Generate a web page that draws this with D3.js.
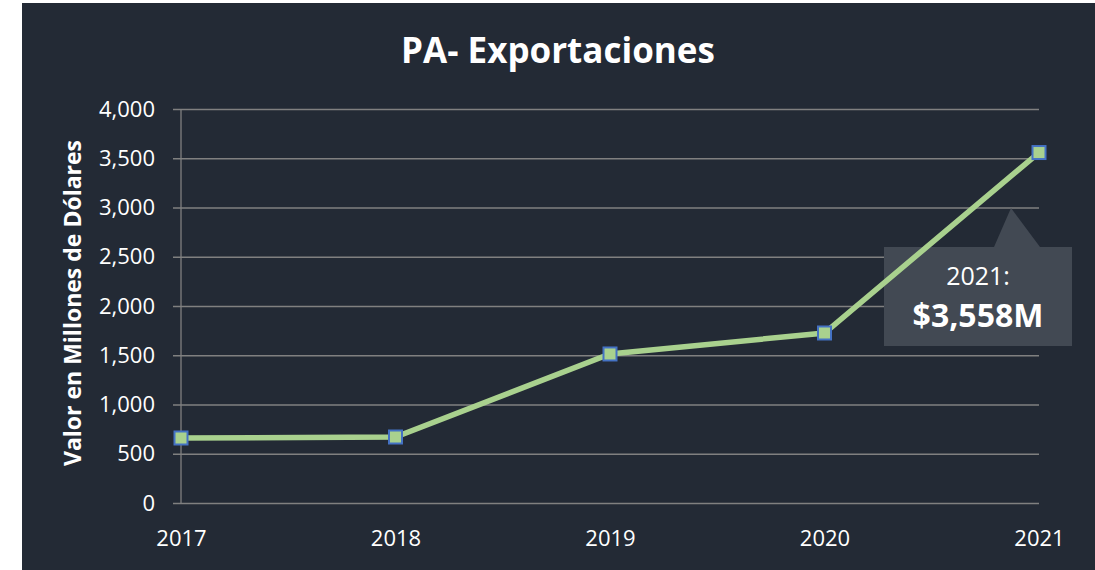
<!DOCTYPE html>
<html lang="es">
  <head>
    <meta charset="UTF-8" />
    <title>PA- Exportaciones</title>
    <style>
      body {
        margin: 0;
        background: #ffffff;
      }
      svg {
        display: block;
      }
      text {
        font-family: "Open Sans", "Noto Sans", sans-serif;
        fill: #ffffff;
      }
    </style>
  </head>
  <body>
    <script src="https://cdn.jsdelivr.net/npm/d3@7"></script>
    <script>
      const years = ["2017", "2018", "2019", "2020", "2021"];
      const values = [660, 670, 1513, 1726, 3558];
      const yTicks = [0, 500, 1000, 1500, 2000, 2500, 3000, 3500, 4000];
      const title = "PA- Exportaciones";
      const yLabel = "Valor en Millones de Dólares";
      const calloutYear = "2021:";
      const calloutValue = "$3,558M";

      const width = 1095;
      const height = 570;
      const margin = { left: 181, right: 56, top: 109, bottom: 67 };

      const svg = d3
        .select("body")
        .append("svg")
        .attr("width", width)
        .attr("height", height);

      // dark panel
      svg
        .append("rect")
        .attr("x", 22)
        .attr("y", 3)
        .attr("width", width - 22)
        .attr("height", height - 3)
        .attr("fill", "#232a35");

      const x = d3
        .scalePoint()
        .domain(years)
        .range([margin.left, width - margin.right]);
      const y = d3
        .scaleLinear()
        .domain([0, 4000])
        .range([height - margin.bottom, margin.top]);

      // grid lines + y labels
      const yAxis = d3
        .axisLeft(y)
        .tickValues(yTicks)
        .tickFormat(d3.format(","))
        .tickSize(-(width - margin.right - margin.left) - 8);
      const gy = svg
        .append("g")
        .attr("transform", "translate(" + (margin.left - 8) + ",0)")
        .call(yAxis);
      gy.attr("font-size", null).attr("font-family", null);
      gy.select(".domain").remove();
      gy.selectAll(".tick line")
        .attr("stroke", "#808080")
        .attr("stroke-width", 1.3);
      gy.selectAll(".tick text")
        .attr("x", -18)
        .style("font-size", "22px")
        .style("fill", "#ffffff");

      // vertical axis line
      svg
        .append("line")
        .attr("x1", margin.left)
        .attr("x2", margin.left)
        .attr("y1", y(4000))
        .attr("y2", y(0))
        .attr("stroke", "#808080")
        .attr("stroke-width", 1.3);

      // x labels
      const xAxis = d3.axisBottom(x).tickSize(0).tickPadding(27);
      const gx = svg
        .append("g")
        .attr("transform", "translate(0," + y(0) + ")")
        .call(xAxis);
      gx.attr("font-size", null).attr("font-family", null);
      gx.select(".domain").remove();
      gx.selectAll(".tick text")
        .style("font-size", "22px")
        .style("fill", "#ffffff");

      // callout box
      svg
        .append("path")
        .attr(
          "d",
          "M884,247 L994,247 L1011,208 L1040,247 L1072,247 L1072,346 L884,346 Z"
        )
        .attr("fill", "#424953");

      // line
      const line = d3
        .line()
        .x((d, i) => x(years[i]))
        .y(d => y(d));
      svg
        .append("path")
        .datum(values)
        .attr("d", line)
        .attr("fill", "none")
        .attr("stroke", "#a9d18e")
        .attr("stroke-width", 5.5);

      svg
        .selectAll("rect.marker")
        .data(values)
        .enter()
        .append("rect")
        .attr("class", "marker")
        .attr("x", (d, i) => x(years[i]) - 6.5)
        .attr("y", d => y(d) - 6.5)
        .attr("width", 13)
        .attr("height", 13)
        .attr("fill", "#a9d18e")
        .attr("stroke", "#4472c4")
        .attr("stroke-width", 2);

      // callout text
      svg
        .append("text")
        .attr("x", 978)
        .attr("y", 285)
        .attr("text-anchor", "middle")
        .style("font-size", "25px")
        .text(calloutYear);
      svg
        .append("text")
        .attr("x", 978)
        .attr("y", 327)
        .attr("text-anchor", "middle")
        .style("font-size", "32px")
        .style("font-weight", "bold")
        .text(calloutValue);

      // title
      svg
        .append("text")
        .attr("x", 558)
        .attr("y", 63)
        .attr("text-anchor", "middle")
        .style("font-size", "35px")
        .style("font-weight", "bold")
        .text(title);

      // y axis label
      svg
        .append("text")
        .attr("transform", "translate(81,303) rotate(-90)")
        .attr("text-anchor", "middle")
        .style("font-size", "23px")
        .style("font-weight", "bold")
        .text(yLabel);
    </script>
  </body>
</html>
